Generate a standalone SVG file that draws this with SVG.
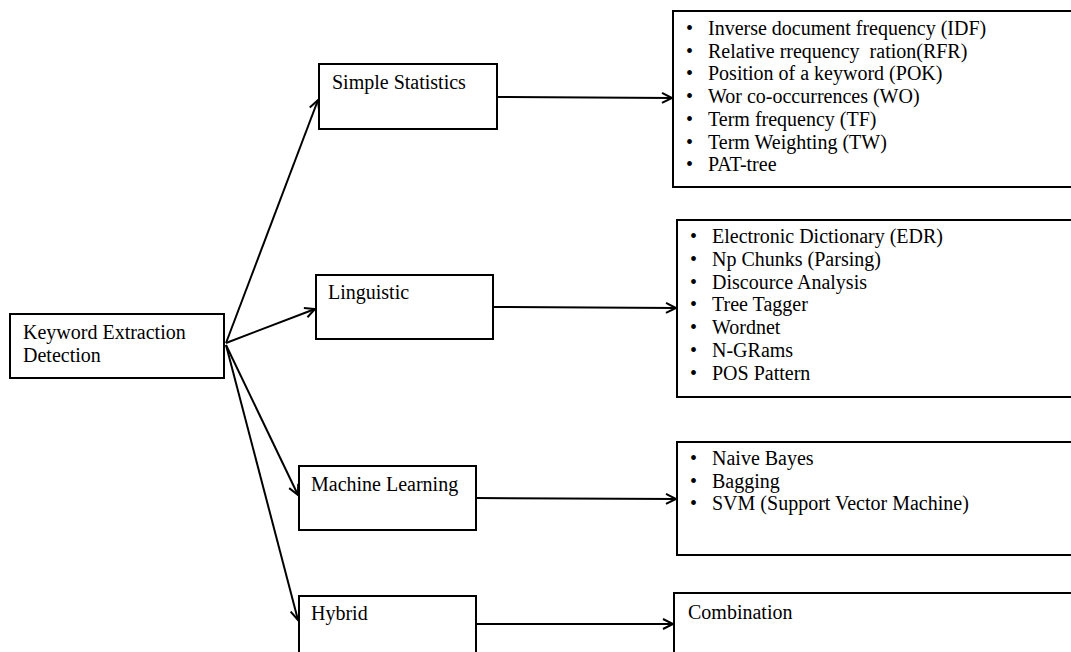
<svg xmlns="http://www.w3.org/2000/svg" width="1071" height="652" viewBox="0 0 1071 652">
<style>
.box{fill:#fff;stroke:#000;stroke-width:2}
.t{font-family:"Liberation Serif","Times New Roman",serif;font-size:20px;fill:#000}
.c{fill:none;stroke:#000;stroke-width:2}
</style>
<defs>
<marker id="arr" markerWidth="14" markerHeight="14" refX="11" refY="6" orient="auto" markerUnits="userSpaceOnUse">
<path d="M1,1 L11,6 L1,11" fill="none" stroke="#000" stroke-width="2"/>
</marker>
</defs>
<rect width="1071" height="652" fill="#fff"/>
<g id="connectors">
<line class="c" x1="226" y1="343" x2="318" y2="100" marker-end="url(#arr)"/>
<line class="c" x1="226" y1="343" x2="315" y2="309" marker-end="url(#arr)"/>
<line class="c" x1="226" y1="345" x2="298" y2="495" marker-end="url(#arr)"/>
<line class="c" x1="226" y1="345" x2="298" y2="620" marker-end="url(#arr)"/>
<line class="c" x1="497" y1="97" x2="672" y2="98" marker-end="url(#arr)"/>
<line class="c" x1="493" y1="307" x2="676" y2="308" marker-end="url(#arr)"/>
<line class="c" x1="476" y1="498" x2="676" y2="499" marker-end="url(#arr)"/>
<line class="c" x1="476" y1="624" x2="673" y2="624" marker-end="url(#arr)"/>
</g>
<g id="root">
<rect class="box" x="10" y="314" width="214" height="64"/>
<text class="t" x="23" y="339">Keyword Extraction</text>
<text class="t" x="23" y="362">Detection</text>
</g>
<g id="simple-statistics">
<rect class="box" x="319" y="64" width="178" height="65"/>
<text class="t" x="332" y="89">Simple Statistics</text>
</g>
<g id="linguistic">
<rect class="box" x="316" y="275" width="177" height="64"/>
<text class="t" x="328" y="299">Linguistic</text>
</g>
<g id="machine-learning">
<rect class="box" x="299" y="466" width="177" height="64"/>
<text class="t" x="311" y="491">Machine Learning</text>
</g>
<g id="hybrid">
<rect class="box" x="299" y="596" width="177" height="70"/>
<text class="t" x="311" y="620">Hybrid</text>
</g>
<g id="list-statistics">
<rect class="box" x="673" y="11" width="410" height="176"/>
<g class="t">
<text x="686" y="35">•</text><text x="708" y="35">Inverse document frequency (IDF)</text>
<text x="686" y="57.7">•</text><text x="708" y="57.7" xml:space="preserve">Relative rrequency  ration(RFR)</text>
<text x="686" y="80.4">•</text><text x="708" y="80.4">Position of a keyword (POK)</text>
<text x="686" y="103.1">•</text><text x="708" y="103.1">Wor co-occurrences (WO)</text>
<text x="686" y="125.8">•</text><text x="708" y="125.8">Term frequency (TF)</text>
<text x="686" y="148.5">•</text><text x="708" y="148.5">Term Weighting (TW)</text>
<text x="686" y="171.2">•</text><text x="708" y="171.2">PAT-tree</text>
</g>
</g>
<g id="list-linguistic">
<rect class="box" x="677" y="220" width="406" height="177"/>
<g class="t">
<text x="690" y="243">•</text><text x="712" y="243">Electronic Dictionary (EDR)</text>
<text x="690" y="265.8">•</text><text x="712" y="265.8">Np Chunks (Parsing)</text>
<text x="690" y="288.6">•</text><text x="712" y="288.6">Discource Analysis</text>
<text x="690" y="311.4">•</text><text x="712" y="311.4">Tree Tagger</text>
<text x="690" y="334.2">•</text><text x="712" y="334.2">Wordnet</text>
<text x="690" y="357">•</text><text x="712" y="357">N-GRams</text>
<text x="690" y="379.8">•</text><text x="712" y="379.8">POS Pattern</text>
</g>
</g>
<g id="list-ml">
<rect class="box" x="677" y="442" width="406" height="113"/>
<g class="t">
<text x="690" y="465">•</text><text x="712" y="465">Naive Bayes</text>
<text x="690" y="487.5">•</text><text x="712" y="487.5">Bagging</text>
<text x="690" y="510">•</text><text x="712" y="510">SVM (Support Vector Machine)</text>
</g>
</g>
<g id="combination">
<rect class="box" x="674" y="593" width="409" height="80"/>
<text class="t" x="688" y="619">Combination</text>
</g>
</svg>
